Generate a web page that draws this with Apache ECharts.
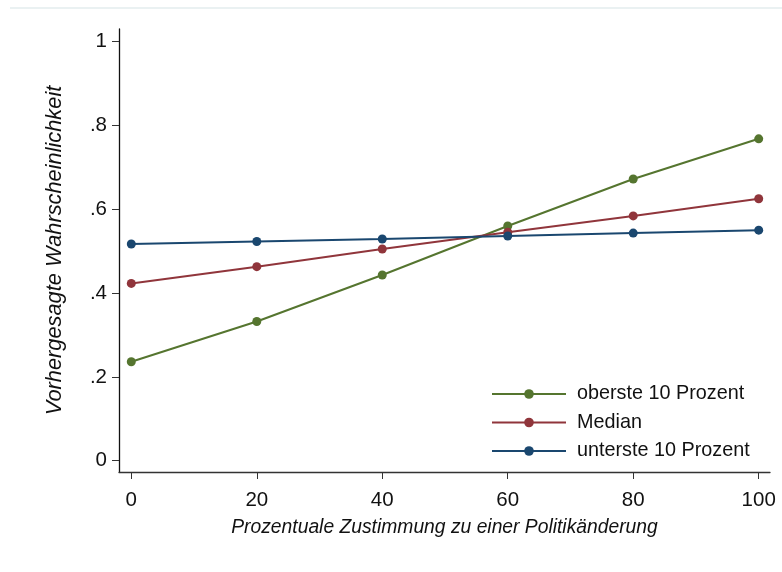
<!DOCTYPE html>
<html>
<head>
<meta charset="utf-8">
<script src="https://cdn.jsdelivr.net/npm/echarts@6/dist/echarts.min.js"></script>
<style>
html,body{margin:0;padding:0;background:#fff;}
#chart{width:782px;height:572px;}
</style>
</head>
<body>
<div id="chart"></div>
<script>
var xValues = [0, 20, 40, 60, 80, 100];
var seriesNames = ['oberste 10 Prozent', 'Median', 'unterste 10 Prozent'];
var topTen = [0.236, 0.332, 0.443, 0.560, 0.672, 0.768];
var median = [0.423, 0.463, 0.505, 0.545, 0.584, 0.625];
var bottomTen = [0.517, 0.523, 0.529, 0.536, 0.543, 0.550];
var xTicks = [0, 20, 40, 60, 80, 100];
var yTicks = [0, 0.2, 0.4, 0.6, 0.8, 1];
var yTickLabels = ['0', '.2', '.4', '.6', '.8', '1'];
var xTitle = 'Prozentuale Zustimmung zu einer Politikänderung';
var yTitle = 'Vorhergesagte Wahrscheinlichkeit';

var colors = ['#55752f', '#90353b', '#1a476f'];
var FONT = 'Liberation Sans, Arial, Helvetica, sans-serif';
var FS = 20.5;

function pairs(vals) {
  return xValues.map(function (x, i) { return [x, vals[i]]; });
}

var chart = echarts.init(document.getElementById('chart'), null, {renderer: 'canvas'});
var option = {
  backgroundColor: '#ffffff',
  animation: false,
  color: colors,
  grid: {left: 119, right: 12, top: 29, bottom: 100, containLabel: false},
  xAxis: {
    type: 'value',
    min: -1.96,
    max: 101.8,
    splitLine: {show: false},
    axisLine: {show: true, onZero: false, lineStyle: {color: '#333', width: 1.3}},
    axisTick: {show: true, length: 7, customValues: xTicks, lineStyle: {color: '#333', width: 1}},
    axisLabel: {
      customValues: xTicks,
      margin: 18,
      color: '#111',
      fontFamily: FONT,
      fontSize: FS
    },
    name: xTitle,
    nameLocation: 'middle',
    nameGap: 46,
    nameTextStyle: {fontFamily: FONT, fontSize: 19.3, fontStyle: 'italic', color: '#111'}
  },
  yAxis: {
    type: 'value',
    min: -0.027,
    max: 1.030,
    splitLine: {show: false},
    axisLine: {show: true, onZero: false, lineStyle: {color: '#111', width: 1.3}},
    axisTick: {show: true, length: 7, customValues: yTicks, lineStyle: {color: '#333', width: 1}},
    axisLabel: {
      customValues: yTicks,
      margin: 12,
      color: '#111',
      fontFamily: FONT,
      fontSize: FS,
      formatter: function (v) {
        for (var i = 0; i < yTicks.length; i++) {
          if (Math.abs(v - yTicks[i]) < 1e-6) return yTickLabels[i];
        }
        return '';
      }
    },
    name: yTitle,
    nameLocation: 'middle',
    nameGap: 53,
    nameRotate: 90,
    nameTextStyle: {fontFamily: FONT, fontSize: 21.8, fontStyle: 'italic', color: '#111'}
  },
  legend: {
    orient: 'vertical',
    left: 491,
    top: 384,
    itemWidth: 74,
    itemHeight: 12,
    itemGap: 8.5,
    padding: 0,
    data: seriesNames,
    textStyle: {fontFamily: FONT, fontSize: 19.8, color: '#111', padding: [0, 0, 0, 6]}
  },
  graphic: [{
    type: 'line',
    shape: {x1: 10, y1: 8, x2: 782, y2: 8},
    style: {stroke: '#e3ecee', lineWidth: 1.5},
    silent: true
  }],
  series: [
    {name: seriesNames[0], type: 'line', data: pairs(topTen), symbol: 'circle', symbolSize: 9,
     lineStyle: {width: 2, color: colors[0]}, itemStyle: {color: colors[0]}, z: 3},
    {name: seriesNames[1], type: 'line', data: pairs(median), symbol: 'circle', symbolSize: 9,
     lineStyle: {width: 2, color: colors[1]}, itemStyle: {color: colors[1]}, z: 4},
    {name: seriesNames[2], type: 'line', data: pairs(bottomTen), symbol: 'circle', symbolSize: 9,
     lineStyle: {width: 2, color: colors[2]}, itemStyle: {color: colors[2]}, z: 5}
  ]
};
chart.setOption(option);
</script>
</body>
</html>
